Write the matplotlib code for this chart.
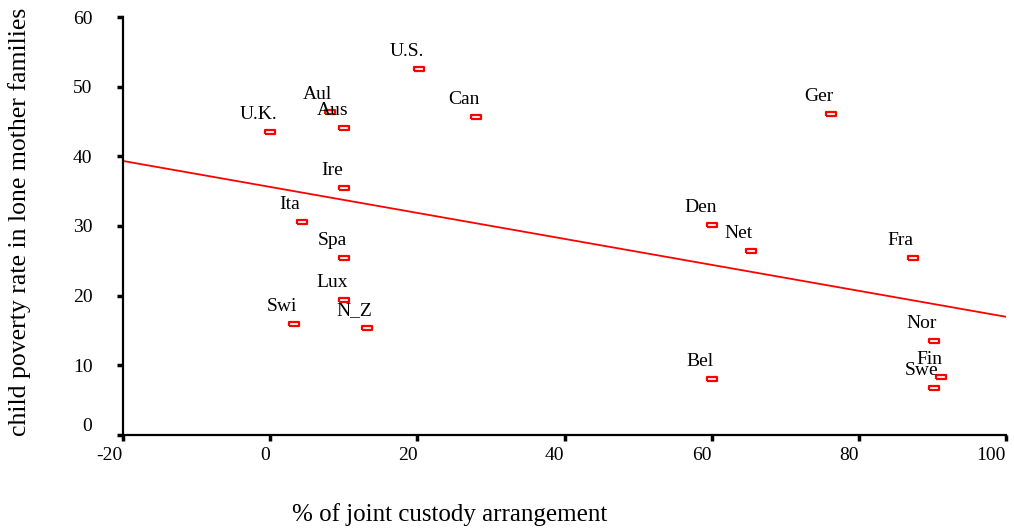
import numpy as np
import matplotlib
matplotlib.use("Agg")
import matplotlib.pyplot as plt
from matplotlib.markers import MarkerStyle

plt.rcParams['font.family'] = ['Liberation Serif', 'DejaVu Serif']

# country codes and their values
countries = ['U.K.', 'Aul', 'Aus', 'U.S.', 'Can', 'Ire', 'Ita', 'Spa', 'Lux', 'Swi',
             'N_Z', 'Ger', 'Den', 'Net', 'Fra', 'Nor', 'Bel', 'Fin', 'Swe']
joint_custody = [0.0, 8.1, 10.1, 20.2, 28.0, 10.1, 4.3, 10.1, 10.1, 3.2,
                 13.1, 76.2, 60.1, 65.3, 87.3, 90.2, 60.1, 91.2, 90.2]
child_poverty = [43.5, 46.3, 44.1, 52.6, 45.7, 35.4, 30.6, 25.4, 19.4, 15.9,
                 15.3, 46.1, 30.2, 26.4, 25.4, 13.5, 8.1, 8.3, 6.8]

x_ticks = [-20, 0, 20, 40, 60, 80, 100]
y_ticks = [0, 10, 20, 30, 40, 50, 60]

fig = plt.figure(figsize=(10.14, 5.31), dpi=100)
ax = fig.add_axes([123 / 1014, 1 - 435 / 531, 883 / 1014, 418 / 531])

# small flat rectangle markers with sharp corners
rect = [(-1, -0.5), (1, -0.5), (1, 0.5), (-1, 0.5), (-1, -0.5)]
rect_marker = MarkerStyle(rect, joinstyle='miter')
ax.plot(joint_custody, child_poverty, linestyle='none', marker=rect_marker, markersize=6.8,
        markerfacecolor='white', markeredgecolor='red', markeredgewidth=1.6, zorder=3)

for name, x, y in zip(countries, joint_custody, child_poverty):
    ax.annotate(name, (x, y), xytext=(-12, 13), textcoords='offset pixels',
                ha='center', va='baseline', fontsize=14, color='black')

# linear fit line
slope, intercept = np.polyfit(joint_custody, child_poverty, 1)
fit_x = np.array([-20, 100])
ax.plot(fit_x, intercept + slope * fit_x, color='red', linewidth=1.3)

ax.set_xlim(-20, 100)
ax.set_ylim(0, 60)
ax.set_xticks(x_ticks)
ax.set_yticks(y_ticks)
ax.set_xticklabels([str(t) for t in x_ticks], ha='right')
ax.set_yticklabels([str(t) for t in y_ticks])

for side in ['top', 'right']:
    ax.spines[side].set_visible(False)
for side in ['left', 'bottom']:
    ax.spines[side].set_linewidth(1.6)

ax.tick_params(axis='both', direction='out', width=2.5, length=4, labelsize=14)
ax.tick_params(axis='y', pad=18)
ax.tick_params(axis='x', pad=5)
ax.get_yticklabels()[0].set_va('bottom')

fig.text(450 / 1014, 1 - 515 / 531, '% of joint custody arrangement',
         ha='center', va='center', fontsize=18)
fig.text(20 / 1014, 1 - 222 / 531, 'child poverty rate in lone mother families',
         ha='center', va='center', rotation=90, fontsize=18.5)

fig.savefig('out.png', dpi=100)
